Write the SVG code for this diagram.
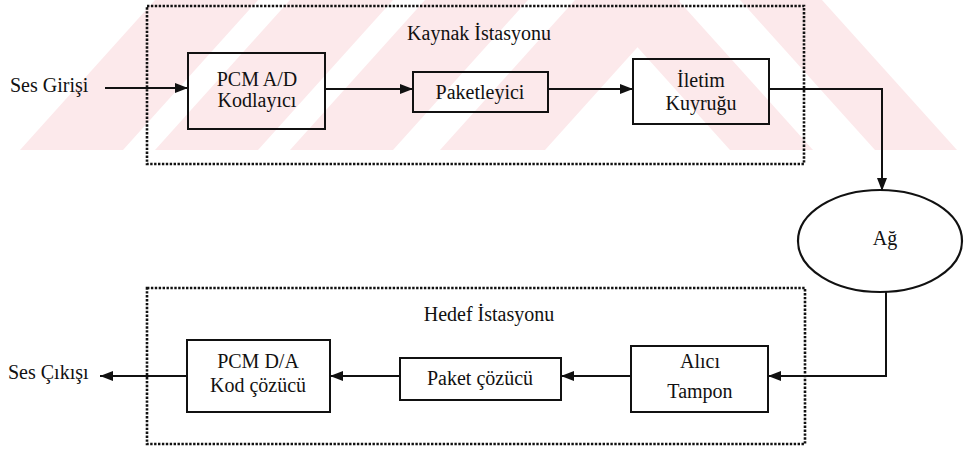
<svg xmlns="http://www.w3.org/2000/svg" width="964" height="450" viewBox="0 0 964 450">
  <style>
    .bg { fill: #ffffff; }
    .wm { fill: #fce9eb; stroke: none; }
    .station { fill: none; stroke: #111; stroke-width: 2.6; stroke-dasharray: 2.4 1.5; }
    .box { fill: none; stroke: #111; stroke-width: 2; }
    .net { fill: none; stroke: #111; stroke-width: 2.2; }
    .wire { fill: none; stroke: #111; stroke-width: 2; }
    .t { font-family: "Liberation Serif", "DejaVu Serif", serif; font-size: 20px; fill: #111; }
    .c { text-anchor: middle; }
  </style>
  <defs>
    <marker id="ah" viewBox="0 0 13 10" refX="13" refY="5" markerWidth="13" markerHeight="10" markerUnits="userSpaceOnUse" orient="auto">
      <path d="M0,0 L13,5 L0,10 z" fill="#111"/>
    </marker>
  </defs>

  <rect class="bg" x="0" y="0" width="964" height="450"/>

  <!-- striped background band -->
  <g id="watermark">
    <polygon class="wm" points="20,150 123,150 258,0 155,0"/>
    <polygon class="wm" points="155,150 258,150 393,0 290,0"/>
    <polygon class="wm" points="290,150 393,150 528,0 425,0"/>
    <polygon class="wm" points="440,150 545,150 680,0 575,0"/>
    <polygon class="wm" points="730,150 813,150 678,0 595,0"/>
    <polygon class="wm" points="875,150 957,150 822,0 740,0"/>
  </g>

  <!-- station frames -->
  <g id="kaynak">
    <rect class="station" x="147" y="6" width="657" height="158"/>
    <text class="t c" font-family="Liberation Serif, serif" x="479" y="40">Kaynak İstasyonu</text>
  </g>
  <g id="hedef">
    <rect class="station" x="147" y="288" width="658" height="156"/>
    <text class="t c" font-family="Liberation Serif, serif" x="489" y="321">Hedef İstasyonu</text>
  </g>

  <!-- source side -->
  <g id="ses-girisi">
    <text class="t" font-family="Liberation Serif, serif" x="10" y="92">Ses Girişi</text>
  </g>
  <g id="pcm-ad">
    <rect class="box" x="188" y="53" width="137" height="76"/>
    <text class="t c" font-family="Liberation Serif, serif" x="257" y="86">PCM A/D</text>
    <text class="t c" font-family="Liberation Serif, serif" x="257" y="107">Kodlayıcı</text>
  </g>
  <g id="paketleyici">
    <rect class="box" x="413" y="72" width="135" height="40"/>
    <text class="t c" font-family="Liberation Serif, serif" x="480" y="99">Paketleyici</text>
  </g>
  <g id="iletim">
    <rect class="box" x="633" y="59" width="136" height="65"/>
    <text class="t c" font-family="Liberation Serif, serif" x="701" y="87">İletim</text>
    <text class="t c" font-family="Liberation Serif, serif" x="701" y="110">Kuyruğu</text>
  </g>

  <!-- network -->
  <g id="ag">
    <ellipse class="net" cx="880" cy="241" rx="82" ry="51"/>
    <text class="t c" font-family="Liberation Serif, serif" x="885" y="245">Ağ</text>
  </g>

  <!-- destination side -->
  <g id="alici">
    <rect class="box" x="631" y="346" width="137" height="66"/>
    <text class="t c" font-family="Liberation Serif, serif" x="700" y="368">Alıcı</text>
    <text class="t c" font-family="Liberation Serif, serif" x="700" y="398">Tampon</text>
  </g>
  <g id="paket-cozucu">
    <rect class="box" x="400" y="358" width="161" height="42"/>
    <text class="t c" font-family="Liberation Serif, serif" x="480" y="385">Paket çözücü</text>
  </g>
  <g id="pcm-da">
    <rect class="box" x="187" y="340" width="143" height="72"/>
    <text class="t c" font-family="Liberation Serif, serif" x="258" y="368">PCM D/A</text>
    <text class="t c" font-family="Liberation Serif, serif" x="258" y="392">Kod çözücü</text>
  </g>
  <g id="ses-cikisi">
    <text class="t" font-family="Liberation Serif, serif" x="8" y="379">Ses Çıkışı</text>
  </g>

  <!-- connectors -->
  <g id="connectors">
    <line class="wire" x1="105" y1="88" x2="188" y2="88" marker-end="url(#ah)"/>
    <line class="wire" x1="325" y1="89" x2="413" y2="89" marker-end="url(#ah)"/>
    <line class="wire" x1="548" y1="89" x2="633" y2="89" marker-end="url(#ah)"/>
    <polyline class="wire" points="769,89 882,89 882,191" marker-end="url(#ah)"/>
    <polyline class="wire" points="886,292 886,376 768,376" marker-end="url(#ah)"/>
    <line class="wire" x1="631" y1="376" x2="561" y2="376" marker-end="url(#ah)"/>
    <line class="wire" x1="400" y1="376" x2="330" y2="376" marker-end="url(#ah)"/>
    <line class="wire" x1="187" y1="376" x2="100" y2="376" marker-end="url(#ah)"/>
  </g>
</svg>
